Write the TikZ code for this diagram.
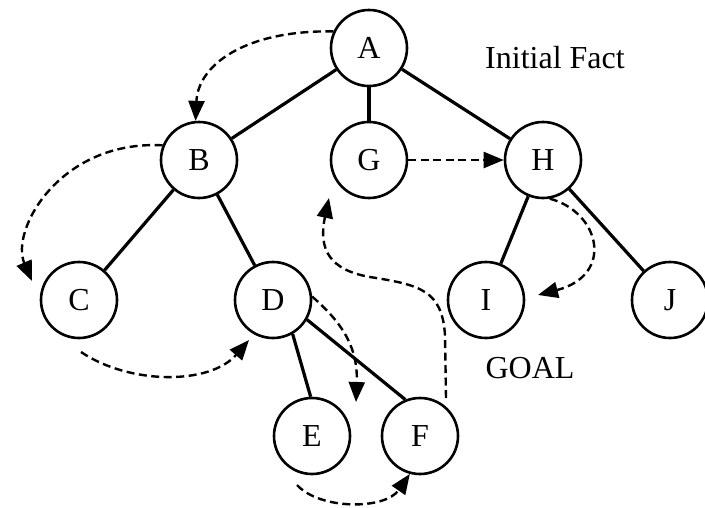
\documentclass[tikz,border=0pt]{standalone}
\usepackage{fontspec}
\setmainfont{Liberation Serif}
\usetikzlibrary{arrows.meta,calc}
\begin{document}
\begin{tikzpicture}[x=1pt,y=-1pt,
  state/.style={circle,draw,line width=2.6pt,minimum size=76pt,inner sep=0pt,font=\fontsize{32}{38}\selectfont},
  edge/.style={line width=3.2pt},
  flow/.style={line width=2.4pt,dash pattern=on 8pt off 4.5pt,-{Triangle[length=20pt,width=16pt]}},
  lbl/.style={font=\fontsize{32}{38}\selectfont}]
\useasboundingbox (0,0) rectangle (705,507);
\fill[white] (0,0) rectangle (705,507);
% nodes
\node[state] (A) at (369,48) {A};
\node[state] (B) at (199,160) {B};
\node[state] (G) at (369,160) {G};
\node[state] (H) at (543,160) {H};
\node[state] (C) at (79,300) {C};
\node[state] (D) at (273,300) {D};
\node[state] (I) at (486,300) {I};
\node[state] (J) at (670,300) {J};
\node[state] (E) at (312,436) {E};
\node[state] (F) at (420,436) {F};
% labels
\node[lbl] (init) at (555,58) {Initial Fact};
\node[lbl] (goal) at (530,368) {GOAL};
% tree edges
\draw[edge] (A) -- (B);
\draw[edge] (A) -- (G);
\draw[edge] (A) -- (H);
\draw[edge] (B) -- (C);
\draw[edge] (B) -- (D);
\draw[edge] (H) -- (I);
\draw[edge] (H) -- (J);
\draw[edge] (D.300) -- (E.92);
\draw[edge] (D.330) -- (F.112);
% free ends of search arrows
\coordinate (tC) at (32,281);
\coordinate (sC) at (81,352);
\coordinate (tD) at (249,340);
\coordinate (tE) at (356,402);
\coordinate (sE) at (297,485);
\coordinate (sF) at (446,398);
\coordinate (tG) at (329,198);
\coordinate (tI) at (538,295);
% search order arrows
\draw[flow] (A.155) .. controls (245,30) and (198,65) .. (B.95);
\draw[flow] (B.158) .. controls (60,140) and (10,230) .. (tC);
\draw[flow] (sC) .. controls (130,385) and (210,385) .. (tD);
\draw[flow] (D.5) .. controls (345,325) and (358,350) .. (tE);
\draw[flow] (sE) .. controls (320,510) and (385,510) .. (F.255);
\draw[flow] (sF) -- (445,335) .. controls (442,290) and (420,285) .. (370,277) .. controls (330,270) and (318,250) .. (tG);
\draw[flow] (G) -- (H);
\draw[flow] (H.280) .. controls (600,212) and (615,275) .. (tI);
\end{tikzpicture}
\end{document}
